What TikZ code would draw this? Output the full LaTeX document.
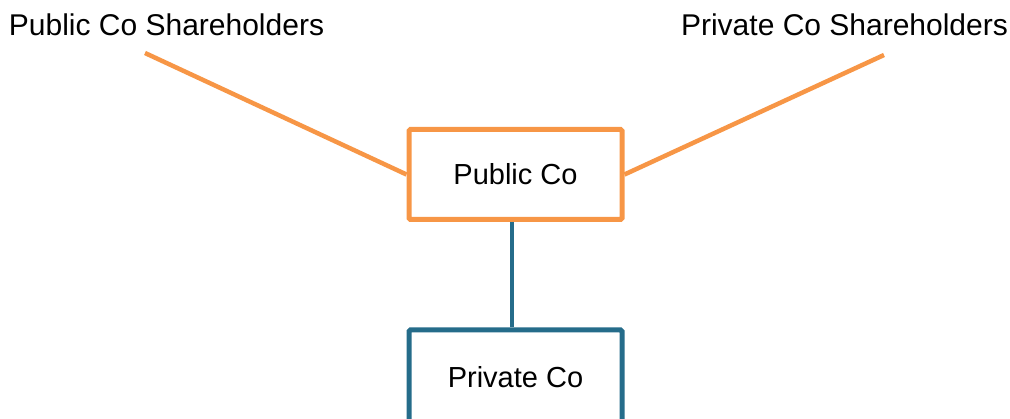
\documentclass[tikz,border=0pt]{standalone}
\usepackage{fontspec}
\setmainfont{Liberation Sans}
\definecolor{boxorange}{RGB}{247,150,70}
\definecolor{boxteal}{RGB}{37,108,138}
\begin{document}
\begin{tikzpicture}[x=1pt,y=-1pt,
  lbl/.style={font=\fontsize{30}{35}\selectfont, inner sep=0pt},
  inlbl/.style={font=\fontsize{29}{34}\selectfont, inner sep=0pt},
  obox/.style={draw=boxorange, line width=5pt, rounded corners=1.5pt, minimum width=213pt, minimum height=90pt, inner sep=0pt, font=\fontsize{29}{34}\selectfont},
  tbox/.style={draw=boxteal, line width=5pt, rounded corners=1.5pt, minimum width=213pt, minimum height=200pt, inner sep=0pt},
  oline/.style={draw=boxorange, line width=4.5pt},
  tline/.style={draw=boxteal, line width=4.5pt}]
\useasboundingbox (0,0) rectangle (1010,419);
\node[lbl, anchor=base] (pubsh) at (166.5,36) {Public Co Shareholders};
\node[lbl, anchor=base] (privsh) at (844.5,36) {Private Co Shareholders};
\coordinate (pubsend) at (145,53);
\coordinate (privsend) at (884,55);
\node[obox] (pub) at (515.5,174.5) {Public Co};
\node[tbox] (priv) at (515.5,430) {};
\node[inlbl, anchor=base] (privtxt) at (515.5,388) {Private Co};
\draw[oline] (pubsend) -- (pub.west);
\draw[oline] (privsend) -- (pub.east);
\draw[tline] (pub.south -| 512,0) -- (priv.north -| 512,0);
\end{tikzpicture}
\end{document}
